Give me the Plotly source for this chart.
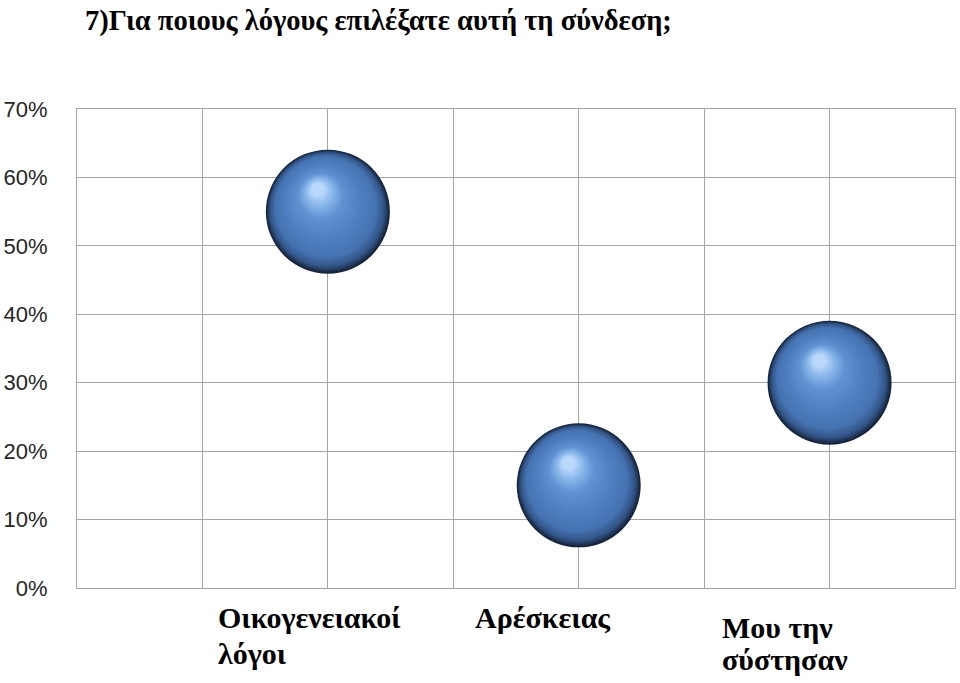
import numpy as np
import plotly.graph_objects as go

categories = ["Οικογενειακοί<br>λόγοι", "Αρέσκειας", "Μου την<br>σύστησαν"]
x_positions = [2, 4, 6]
values = [0.55, 0.15, 0.30]
title_text = "7)Για ποιους λόγους επιλέξατε αυτή τη σύνδεση;"
y_ticks = [0, 0.1, 0.2, 0.3, 0.4, 0.5, 0.6, 0.7]
y_tick_labels = ["0%", "10%", "20%", "30%", "40%", "50%", "60%", "70%"]

SERIF = "Liberation Serif"

# pixel geometry used only for the sphere shading layers
plot_w, plot_h = 882, 479
x_range, y_range = 7.0, 0.7
px_x = x_range / plot_w
px_y = y_range / plot_h

def shifted(dx, dy):
    return [x + dx * px_x for x in x_positions], [v - dy * px_y for v in values]

# colour ramp for the shaded sphere (edge -> highlight)
ramp_t = [0.0, 0.08, 0.2, 0.45, 0.7, 0.88, 1.0]
ramp_rgb = [(22, 37, 60), (50, 85, 135), (70, 115, 178), (80, 128, 192),
            (96, 146, 210), (140, 185, 235), (185, 216, 250)]

def ramp(t):
    return "rgb(%d,%d,%d)" % tuple(
        int(round(np.interp(t, ramp_t, [c[i] for c in ramp_rgb]))) for i in range(3))

fig = go.Figure()

N = 40
size0, size1 = 124, 14
hl_dx, hl_dy = -10, -22
for k in range(N):
    t = k / (N - 1)
    size = size0 + (size1 - size0) * t
    lx, ly = shifted(hl_dx * t, hl_dy * t)
    fig.add_trace(go.Scatter(
        x=lx, y=ly, mode="markers", hoverinfo="skip", showlegend=False,
        marker=dict(size=size, color=ramp(t), line=dict(width=0))))

# category labels (one annotation per text line, left aligned)
label_offsets = [-0.89, -0.84, -0.87]
label_line_y = [[-0.024, -0.099], [-0.024], [-0.043, -0.1115]]
for cat, xp, off, ys in zip(categories, x_positions, label_offsets, label_line_y):
    for line, ly in zip(cat.split("<br>"), ys):
        fig.add_annotation(
            x=xp + off, y=ly, xref="x", yref="paper", text="<b>" + line + "</b>",
            showarrow=False, xanchor="left", yanchor="top", align="left",
            font=dict(family=SERIF, size=30, color="black"))

fig.update_layout(
    width=960, height=683,
    margin=dict(l=74, r=4, t=109, b=95),
    paper_bgcolor="white", plot_bgcolor="white",
    title=dict(text="<b>" + title_text + "</b>", x=85 / 960, xanchor="left",
               xref="container", y=1 - 20 / 683, yanchor="middle",
               font=dict(family=SERIF, size=28.5, color="black")),
    xaxis=dict(range=[0, 7], dtick=1, showticklabels=False, showgrid=True,
               gridcolor="#a6a6a6", gridwidth=1, zeroline=False,
               showline=True, linecolor="#a6a6a6", linewidth=1, mirror=True,
               fixedrange=True),
    yaxis=dict(range=[0, 0.7], tickvals=y_ticks, ticktext=y_tick_labels,
               showgrid=True, gridcolor="#a6a6a6", gridwidth=1, zeroline=False,
               showline=True, linecolor="#a6a6a6", linewidth=1, mirror=True,
               ticks="", ticklabelstandoff=24,
               tickfont=dict(family="Liberation Sans", size=22, color="#262626"),
               fixedrange=True),
)

fig.write_html("out.html")
